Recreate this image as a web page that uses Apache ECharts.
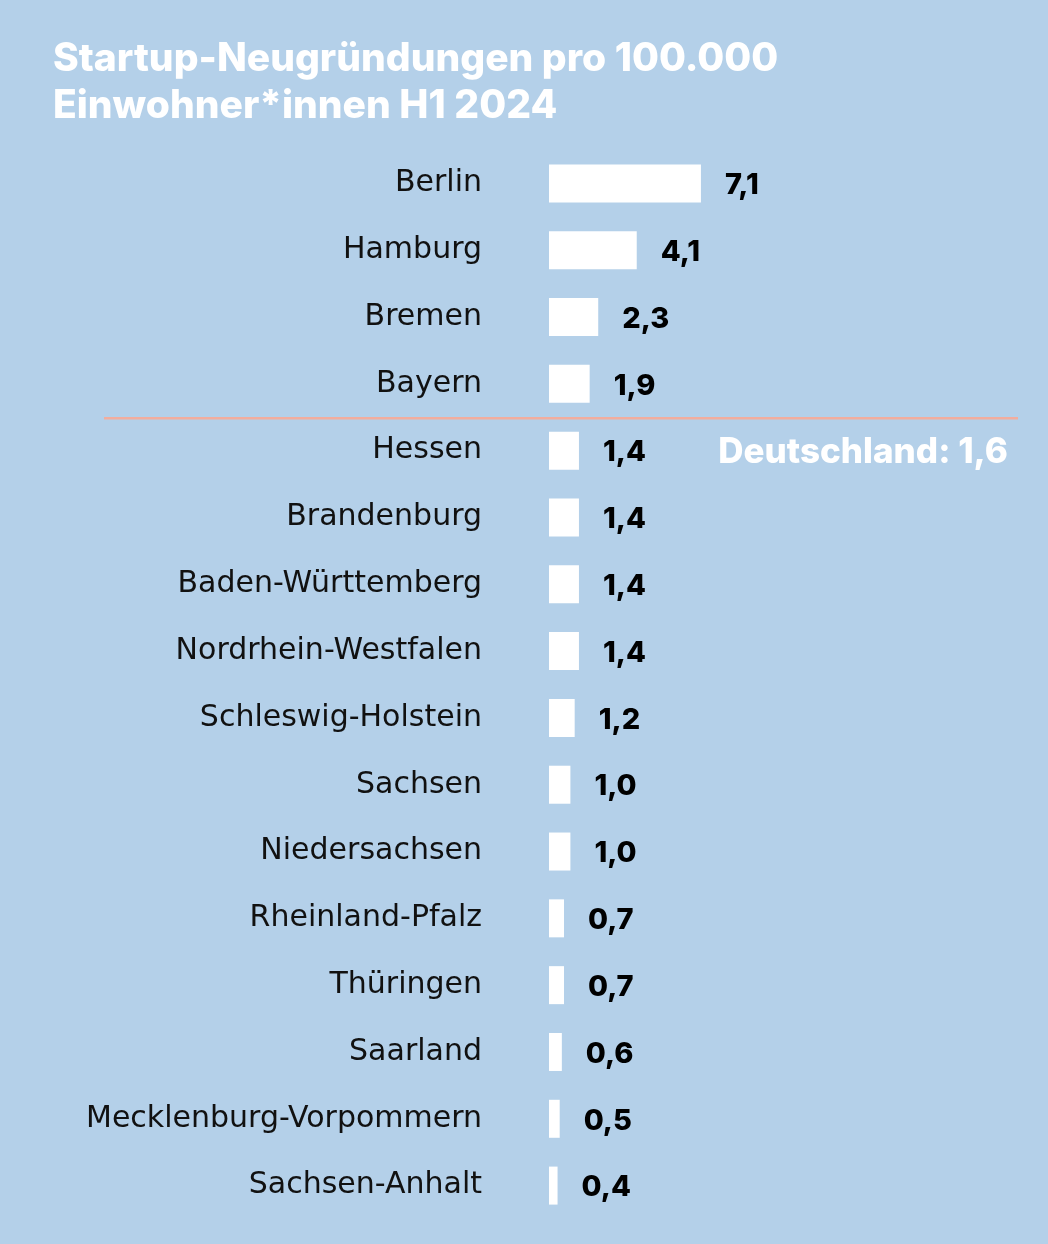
<!DOCTYPE html>
<html>
<head>
<meta charset="utf-8">
<script src="https://cdn.jsdelivr.net/npm/echarts@6/dist/echarts.min.js"></script>
<style>
html,body{margin:0;padding:0;background:#b4d0e9;}
#main{width:1048px;height:1244px;}
</style>
</head>
<body>
<div id="main"></div>
<script>
var laender = ['Berlin', 'Hamburg', 'Bremen', 'Bayern', 'Hessen', 'Brandenburg', 'Baden-Württemberg',
	'Nordrhein-Westfalen', 'Schleswig-Holstein', 'Sachsen', 'Niedersachsen', 'Rheinland-Pfalz',
	'Thüringen', 'Saarland', 'Mecklenburg-Vorpommern', 'Sachsen-Anhalt'];
var werte = [7.1, 4.1, 2.3, 1.9, 1.4, 1.4, 1.4, 1.4, 1.2, 1.0, 1.0, 0.7, 0.7, 0.6, 0.5, 0.4];
var deutschland = 1.6;
var titel = 'Startup-Neugründungen pro 100.000\nEinwohner*innen H1 2024';

var font = 'Inter';
var chart = echarts.init(document.getElementById('main'));

function fmt(v) {
	return v.toFixed(1).replace('.', ',');
}

var option = {
	backgroundColor: '#b4d0e9',
	animation: false,
	title: {
		text: titel,
		left: 48,
		top: 31,
		textStyle: {
			color: '#ffffff',
			fontFamily: font,
			fontWeight: 800,
			fontSize: 39,
			lineHeight: 47
		}
	},
	grid: {
		left: 549,
		right: 285,
		top: 150,
		bottom: 25
	},
	xAxis: {
		type: 'value',
		min: 0,
		max: 10,
		show: false
	},
	yAxis: {
		type: 'category',
		data: laender,
		inverse: true,
		axisLine: { show: false },
		axisTick: { show: false },
		axisLabel: {
			margin: 67,
			color: '#111111',
			fontFamily: 'DejaVu Sans',
			fontSize: 30
		}
	},
	series: [{
		type: 'bar',
		data: werte,
		barWidth: 38,
		itemStyle: { color: '#ffffff' },
		label: {
			show: true,
			position: 'right',
			distance: 24,
			offset: [0, 2],
			color: '#000000',
			fontFamily: font,
			fontWeight: 800,
			fontSize: 29,
			formatter: function (p) { return fmt(p.value); }
		}
	}]
};
chart.setOption(option);

// Trennlinie zwischen Werten über und unter dem Bundesdurchschnitt
var idx = 0;
while (idx < werte.length && werte[idx] > deutschland) idx++;
var yOben = chart.convertToPixel({ yAxisIndex: 0 }, laender[idx - 1]);
var yUnten = chart.convertToPixel({ yAxisIndex: 0 }, laender[idx]);
var yLinie = (yOben + yUnten) / 2;

chart.setOption({
	graphic: [{
		type: 'line',
		shape: { x1: 104, y1: yLinie + 1, x2: 1018, y2: yLinie + 1 },
		style: { stroke: '#f2ad9e', lineWidth: 2.5 }
	}, {
		type: 'text',
		right: 40,
		top: yUnten - 16,
		style: {
			text: 'Deutschland: ' + fmt(deutschland),
			fill: '#ffffff',
			font: '800 35px ' + font
		}
	}]
});
</script>
</body>
</html>
